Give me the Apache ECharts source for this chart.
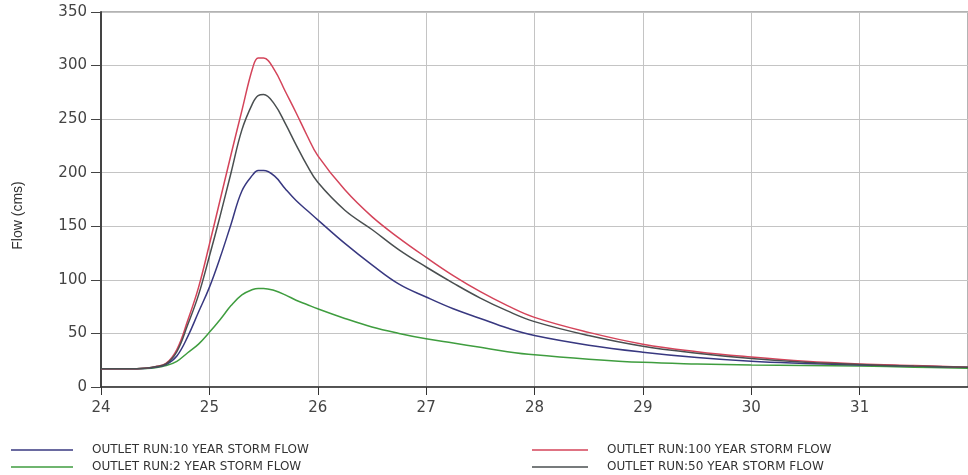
<!DOCTYPE html>
<html>
<head>
<meta charset="utf-8">
<script src="https://cdn.jsdelivr.net/npm/echarts@6/dist/echarts.min.js"></script>
<style>
html,body{margin:0;padding:0;background:#fff;}
#c{width:968px;height:475px;}
</style>
</head>
<body>
<div id="c"></div>
<script>
// time (days) at which flows were read
const time = [24, 24.25, 24.4, 24.5, 24.6, 24.7, 24.8, 24.9, 25.0, 25.1, 25.2, 25.3, 25.4, 25.45, 25.5, 25.6, 25.7, 25.8, 25.9, 26.0, 26.25, 26.5, 26.75, 27, 27.25, 27.5, 27.75, 28, 28.5, 29, 29.5, 30, 30.5, 31, 31.5, 32];
// flows (cms)
const flow100 = [17, 17, 17.5, 19, 22, 35, 62, 93, 133, 175, 217, 258, 298, 307, 307, 296, 276, 256, 235, 216, 184, 159, 139, 121, 104, 89, 76, 65, 51, 40, 33, 28, 24, 21.5, 20, 18.5];
const flow50  = [17, 17, 17.5, 19, 21.5, 33, 58, 86, 122, 160, 200, 240, 265, 272, 273, 264, 246, 226, 207, 191, 165, 147, 128, 112, 97, 83, 71, 61, 48, 38, 31.5, 26.5, 23, 21, 19.5, 18.5];
const flow10  = [17, 17, 17.3, 18.5, 21, 29, 47, 70, 93, 121, 152, 183, 198, 202, 202, 197, 185, 174, 165, 156, 134, 114, 96, 84, 73, 64, 55, 48, 39, 32.5, 27.5, 24, 22, 20.5, 19.5, 18.5];
const flow2   = [17, 17, 17.3, 18, 20, 24, 32, 40, 51, 63, 76, 86, 91, 92, 92, 90, 86, 81, 77, 73, 64, 56, 50, 45, 41, 37, 33, 30, 26, 23, 21.5, 20.5, 20, 19.5, 18.5, 17.5];
const names = {
  y10: 'OUTLET RUN:10 YEAR STORM FLOW',
  y2: 'OUTLET RUN:2 YEAR STORM FLOW',
  y100: 'OUTLET RUN:100 YEAR STORM FLOW',
  y50: 'OUTLET RUN:50 YEAR STORM FLOW'
};
const yTicks = {min: 0, max: 350, interval: 50};
const xTicks = {min: 24, max: 32, interval: 1};

function pairs(v){ return time.map((t,i)=>[t, v[i]]); }
function mk(name, data, color){
  return {
    name, type:'line', data: pairs(data), showSymbol:false, symbol:'none',
    smooth:0.4,
    lineStyle:{color, width:1.5}, itemStyle:{color}
  };
}
const chart = echarts.init(document.getElementById('c'), null, {renderer:'canvas'});
const legText = {fontFamily:'DejaVu Sans', fontSize:12, color:'#333', padding:[0,0,0,14]};
function leg(name, left, top, w){
  return {data:[name], orient:'horizontal', left, top, icon:'rect', itemWidth:w, itemHeight:1.5, textStyle:legText, padding:0};
}
chart.setOption({
  animation:false,
  backgroundColor:'#fff',
  grid:{left:101, right:-9, top:12, bottom:88, show:true, borderColor:'#666', borderWidth:1, containLabel:false},
  xAxis:{
    type:'value', min:xTicks.min, max:xTicks.max, interval:xTicks.interval,
    axisLine:{show:true, lineStyle:{color:'#333', width:1.5}},
    axisTick:{show:true, length:8, lineStyle:{color:'#333'}},
    axisLabel:{margin:14, color:'#444', fontFamily:'DejaVu Sans', fontSize:15, showMaxLabel:false},
    splitLine:{show:true, lineStyle:{color:'#c4c4c4', width:1}}
  },
  yAxis:{
    type:'value', min:yTicks.min, max:yTicks.max, interval:yTicks.interval,
    name:'Flow (cms)', nameLocation:'middle', nameGap:76, nameRotate:90,
    nameTextStyle:{fontFamily:'Liberation Sans Narrow, Liberation Sans', fontSize:14, color:'#333', padding:[0,0,0,-32]},
    axisLine:{show:true, lineStyle:{color:'#444', width:2}},
    axisTick:{show:true, length:10, lineStyle:{color:'#444'}},
    axisLabel:{margin:14, color:'#444', fontFamily:'DejaVu Sans', fontSize:15},
    splitLine:{show:true, lineStyle:{color:'#c4c4c4', width:1}}
  },
  legend:[
    leg(names.y10, 11, 444, 62),
    leg(names.y2, 11, 461, 62),
    leg(names.y100, 532, 444, 56),
    leg(names.y50, 532, 461, 56)
  ],
  series:[
    mk(names.y2, flow2, '#3f9d3f'),
    mk(names.y10, flow10, '#383880'),
    mk(names.y100, flow100, '#d4445a'),
    mk(names.y50, flow50, '#4a4f50')
  ]
});
</script>
</body>
</html>
